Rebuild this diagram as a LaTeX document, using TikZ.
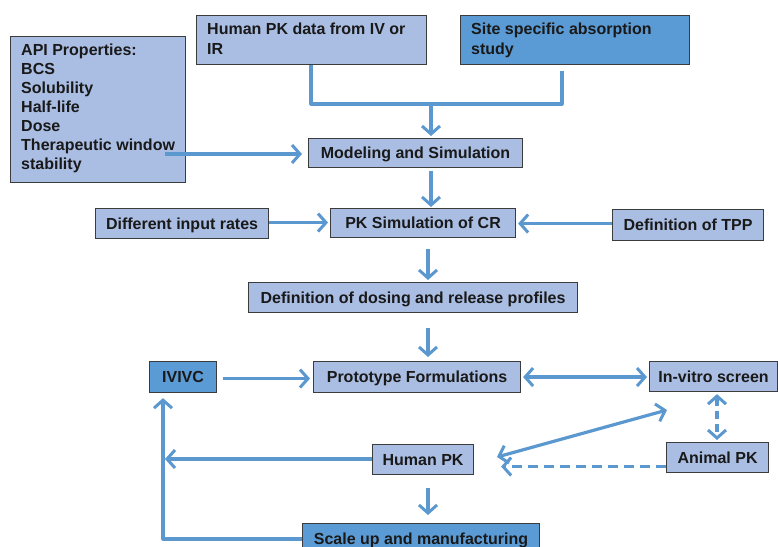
\documentclass[tikz,border=0pt]{standalone}
\usepackage{fontspec}
\setmainfont{Liberation Sans}
\usetikzlibrary{arrows.meta,calc}
\definecolor{lightfill}{RGB}{170,190,228}
\definecolor{darkfill}{RGB}{91,155,213}
\definecolor{arrowc}{RGB}{91,152,208}
\definecolor{edgec}{RGB}{60,60,60}
\tikzset{
  x=1pt,y=-1pt,
  txt/.style={font=\bfseries\fontsize{16}{19}\selectfont,text=black!90},
  boxbase/.style={draw=edgec,line width=1.1pt,inner sep=0pt,anchor=north west,
    txt,text height=11pt,text depth=0pt},
  lbox/.style={boxbase,fill=lightfill},
  dbox/.style={boxbase,fill=darkfill},
  conn/.style={draw=arrowc,line width=3.2pt},
  tip/.style={-{Straight Barb[length=8pt,width=18pt,line width=3pt]}},
  tips/.style={{Straight Barb[length=8pt,width=18pt,line width=3pt]}-{Straight Barb[length=8pt,width=18pt,line width=3pt]}},
  dashconn/.style={conn,dash pattern=on 10pt off 6pt},
}
\newcommand{\bx}[7]{% style, name, x1, y1, x2, y2, text
  \node[#1,minimum width=#5-#3,minimum height=#6-#4] (#2) at (#3,#4) {#7};}
\begin{document}
\begin{tikzpicture}
\useasboundingbox (0,0) rectangle (778,546);
% boxes
\node[lbox,minimum width=175pt,minimum height=146pt] (api) at (10,36) {};
\node[anchor=north west,align=left,inner sep=0pt,txt] (apitext) at (21,44)
  {API Properties:\\BCS\\Solubility\\Half-life\\Dose\\Therapeutic window\\stability};
\node[lbox,minimum width=230pt,minimum height=49pt] (hpd) at (196,15) {};
\node[anchor=north west,align=left,inner sep=0pt,txt,font=\bfseries\fontsize{16}{20}\selectfont] (hpdtext) at (207,22.5)
  {Human PK data from IV or\\IR};
\node[dbox,minimum width=229pt,minimum height=49pt] (site) at (460,15) {};
\node[anchor=north west,align=left,inner sep=0pt,txt,font=\bfseries\fontsize{16}{20}\selectfont] (sitetext) at (471,22.5)
  {Site specific absorption\\study};
\bx{lbox}{model}{308}{138}{522}{167}{Modeling and Simulation}
\bx{lbox}{diff}{95}{208}{268}{238}{Different input rates}
\bx{lbox}{pksim}{330}{208}{515}{237}{PK Simulation of CR}
\bx{lbox}{tpp}{612}{209}{763}{240}{Definition of TPP}
\bx{lbox}{dosing}{248}{282}{577}{312}{Definition of dosing and release profiles}
\bx{lbox}{proto}{313}{361}{520}{392}{Prototype Formulations}
\bx{dbox}{ivivc}{149}{361}{216}{392}{IVIVC}
\bx{lbox}{invitro}{649}{361}{777}{391}{In-vitro screen}
\bx{lbox}{animal}{666}{442}{768}{472}{Animal PK}
\bx{lbox}{humanpk}{372}{444}{473}{474}{Human PK}
\bx{dbox}{scale}{302}{523}{539}{553}{Scale up and manufacturing}
% junction coordinates
\coordinate (j1) at (311,104);
\coordinate (j2) at (562,104);
\coordinate (jm) at (431,104);
\coordinate (jl) at (428,104);
\coordinate (dv) at (717,104);
\coordinate (apiout) at (165,154);
\coordinate (hleft) at (165,459);
\coordinate (scorner) at (163,539);
\coordinate (vsw) at (667,410);
\coordinate (hne) at (497,457);
% connectors
\draw[conn,line join=round] (hpd.south -| j1) -- (j1) -- (j2) -- ([yshift=-6pt]site.south -| j2);
\draw[conn,tip] (jm) -- ([yshift=2pt]model.north -| jm);
\draw[conn,tip] (apiout) -- ([xshift=-6pt]apiout -| model.west);
\draw[conn,tip] ([yshift=-3pt]model.south -| jm) -- ([yshift=1pt]pksim.north -| jm);
\draw[conn,tip] ([yshift=1pt]diff.east) -- ([yshift=1pt,xshift=-2pt]diff.east -| pksim.west);
\draw[conn,tip] ([yshift=1.5pt]tpp.west) -- ([yshift=1.5pt,xshift=2pt]tpp.west -| pksim.east);
\draw[conn,tip] ([yshift=-11pt]pksim.south -| jl) -- ([yshift=2pt]dosing.north -| jl);
\draw[conn,tip] ([yshift=-15pt]dosing.south -| jl) -- ([yshift=4pt]proto.north -| jl);
\draw[conn,tip] ([xshift=6pt,yshift=-1.5pt]ivivc.east) -- ([xshift=-3pt,yshift=-1.5pt]ivivc.east -| proto.west);
\draw[conn,tips] ([xshift=2pt]proto.east) -- ([xshift=-2pt]proto.east -| invitro.west);
\draw[dashconn,tips,dash pattern=on 8pt off 5pt] ([yshift=-2pt]invitro.south -| dv) -- ([yshift=2pt]animal.north -| dv);
\draw[conn,tips] (vsw) -- (hne);
\draw[dashconn,tip] ([yshift=-9pt]animal.west) -- ([yshift=-9pt,xshift=27pt]animal.west -| humanpk.east);
\draw[conn,tip] (humanpk.west |- hleft) -- (hleft);
\draw[conn,tip] ([yshift=-13pt]humanpk.south -| jl) -- ([yshift=8pt]scale.north -| jl);
\draw[conn,tip,line join=round] (scale.west |- scorner) -- (scorner) -- ([yshift=-5pt]scorner |- ivivc.south);
\end{tikzpicture}
\end{document}
